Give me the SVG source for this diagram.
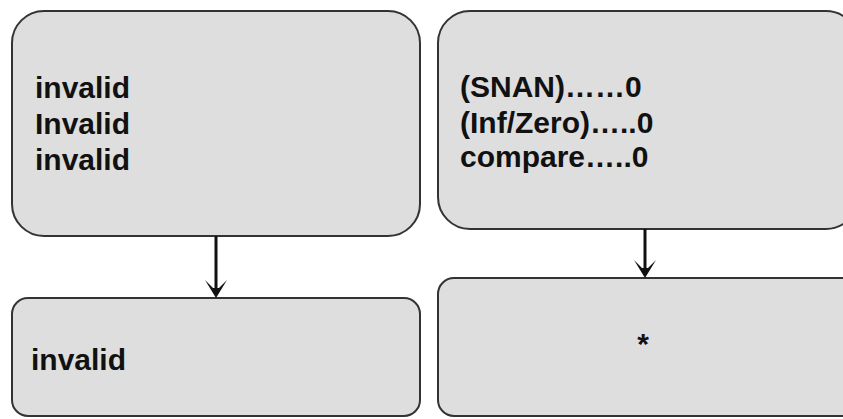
<svg xmlns="http://www.w3.org/2000/svg" width="843" height="419" viewBox="0 0 843 419">
  <style>
    .box { fill: #dedede; stroke: #333; stroke-width: 2; }
    .lbl { font-family: "Liberation Sans", Arial, sans-serif; font-weight: bold; font-size: 30px; fill: #111; }
    .conn { stroke: #111; stroke-width: 3; fill: none; }
    .head { fill: #111; stroke: none; }
  </style>
  <defs>
    <!-- barbed arrowhead, tip at (0,0) pointing down -->
    <path id="arrowhead" d="M0,0 L-11,-18 L-3,-10 L0,-10 L3,-10 L11,-18 Z"/>
  </defs>
  <rect width="843" height="419" fill="#fff"/>

  <g id="node-left-top">
    <rect class="box" x="12" y="11" width="408" height="225" rx="32" ry="32"/>
    <text class="lbl" x="35" y="98">invalid</text>
    <text class="lbl" x="35" y="134">Invalid</text>
    <text class="lbl" x="35" y="170">invalid</text>
  </g>

  <g id="node-left-bottom">
    <rect class="box" x="12" y="298" width="408" height="118" rx="16" ry="16"/>
    <text class="lbl" x="31" y="370">invalid</text>
  </g>

  <g id="node-right-top">
    <rect class="box" x="438" y="11" width="420" height="218" rx="32" ry="32"/>
    <text class="lbl" x="460" y="97">(SNAN)……0</text>
    <text class="lbl" x="460" y="133">(Inf/Zero)…..0</text>
    <text class="lbl" x="460" y="167">compare…..0</text>
  </g>

  <g id="node-right-bottom">
    <rect class="box" x="438" y="278" width="420" height="138" rx="16" ry="16"/>
    <text class="lbl" x="643" y="354" text-anchor="middle">*</text>
  </g>

  <g id="connectors">
    <line class="conn" x1="216" y1="236" x2="216" y2="292"/>
    <use href="#arrowhead" class="head" x="216" y="298"/>
    <line class="conn" x1="645" y1="229" x2="645" y2="272"/>
    <use href="#arrowhead" class="head" x="645" y="278"/>
  </g>
</svg>
